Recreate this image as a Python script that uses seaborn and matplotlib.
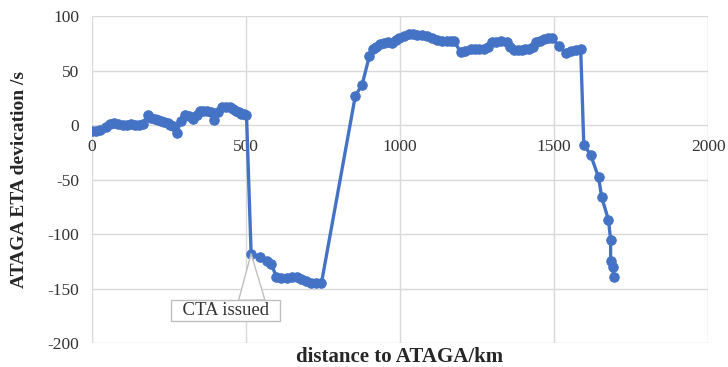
import matplotlib
matplotlib.use("Agg")
import matplotlib.pyplot as plt
import seaborn as sns
import pandas as pd

distance_km = [0, 15, 28, 45, 58, 72, 84, 100, 113, 126, 139, 152, 165, 181, 193, 204, 215, 226, 236, 246, 255,
               262, 275, 290, 301, 314, 327, 340, 350, 362, 375, 387, 398, 410, 421, 434, 447, 458, 469,
               478, 485, 494, 502, 517, 545, 570, 583, 598, 615, 633, 650, 665, 680, 695, 712, 728, 745,
               855, 877, 900, 912, 922, 935, 948, 962, 974, 988, 997, 1013, 1029, 1042, 1055, 1070, 1087,
               1104, 1120, 1136, 1152, 1164, 1175, 1197, 1212, 1230, 1243, 1256, 1272, 1285, 1298, 1312,
               1327, 1346, 1357, 1369, 1382, 1395, 1406, 1417, 1430, 1440, 1454, 1466, 1480, 1492, 1515,
               1537, 1556, 1570, 1586, 1596, 1618, 1644, 1654, 1676, 1683, 1683, 1690, 1693]
eta_dev_s = [-5, -5, -4, -2, 1, 2, 1, 0, 0, 1, 0, 0, 1, 9, 7, 6, 5, 4, 3, 2, 0,
             -1, -7, 4, 9, 8, 6, 9, 13, 13, 13, 12, 5, 12, 17, 17, 17, 15, 13,
             12, 10, 10, 9, -118, -121, -125, -127, -139, -140, -140, -139, -139, -141, -143, -145, -145, -145,
             27, 37, 63, 70, 72, 74, 75, 76, 75, 78, 80, 82, 84, 84, 83, 83, 82,
             80, 78, 77, 77, 77, 77, 67, 68, 70, 70, 70, 70, 72, 76, 76,
             77, 76, 72, 69, 69, 69, 70, 70, 72, 76, 77, 79, 80, 80, 73,
             66, 68, 69, 70, -18, -27, -48, -66, -87, -105, -125, -130, -139]

x_ticks = [0, 500, 1000, 1500, 2000]
y_ticks = [-200, -150, -100, -50, 0, 50, 100]
annotation_text = "CTA issued"
annotation_point = (517, -118)

df = pd.DataFrame({"distance": distance_km, "eta": eta_dev_s})

sns.set_theme(style="white")
plt.rcParams["font.family"] = ["Liberation Serif", "DejaVu Serif"]

fig, ax = plt.subplots(figsize=(7.28, 3.67), dpi=100)
fig.subplots_adjust(left=0.126, right=0.973, top=0.956, bottom=0.065)

blue = "#4472C4"
sns.lineplot(data=df, x="distance", y="eta", ax=ax, color=blue, linewidth=2.4,
             marker="o", markersize=6.8, markeredgecolor=blue, markerfacecolor=blue,
             sort=False, estimator=None)

# x axis crosses at y = 0 (Excel style); set before tick styling since it resets ticks
for s in ["top", "right", "left"]:
    ax.spines[s].set_visible(False)
ax.spines["bottom"].set_position(("data", 0))
ax.spines["bottom"].set_visible(False)

ax.set_xlim(0, 2000)
ax.set_ylim(-200, 100)
ax.set_xticks(x_ticks)
ax.set_yticks(y_ticks)
ax.set_xticklabels([str(t) for t in x_ticks], fontsize=12.5, color="#333333")
ax.set_yticklabels([str(t) for t in y_ticks], fontsize=12.5, color="#333333")
ax.grid(True, color="#d9d9d9", linewidth=1.0)
ax.set_axisbelow(True)
ax.tick_params(axis="y", length=0, pad=9)
ax.tick_params(axis="x", length=0, pad=10)

ax.set_xlabel("")
ax.set_ylabel("ATAGA ETA devication /s", fontsize=14, fontweight="bold")
ax.yaxis.set_label_coords(-0.103, 0.5)
fig.text(0.549, 0.027, "distance to ATAGA/km", ha="center", va="center",
         fontsize=15, fontweight="bold")

txt = ax.text(434, -170, "  " + annotation_text + "  ", ha="center", va="center", fontsize=13.5,
              color="#333333", zorder=5,
              bbox=dict(boxstyle="square,pad=0.1", fc="white", ec="#bfbfbf", lw=1))
ax.annotate("", xy=annotation_point, xytext=(0.74, 1.0),
            textcoords=txt.get_bbox_patch(),
            arrowprops=dict(arrowstyle="wedge,tail_width=1.4,shrink_factor=0.5",
                            fc="white", ec="#bfbfbf", lw=1, shrinkA=0, shrinkB=0,
                            mutation_scale=13.5),
            zorder=6)

fig.savefig("out.png", dpi=100)
